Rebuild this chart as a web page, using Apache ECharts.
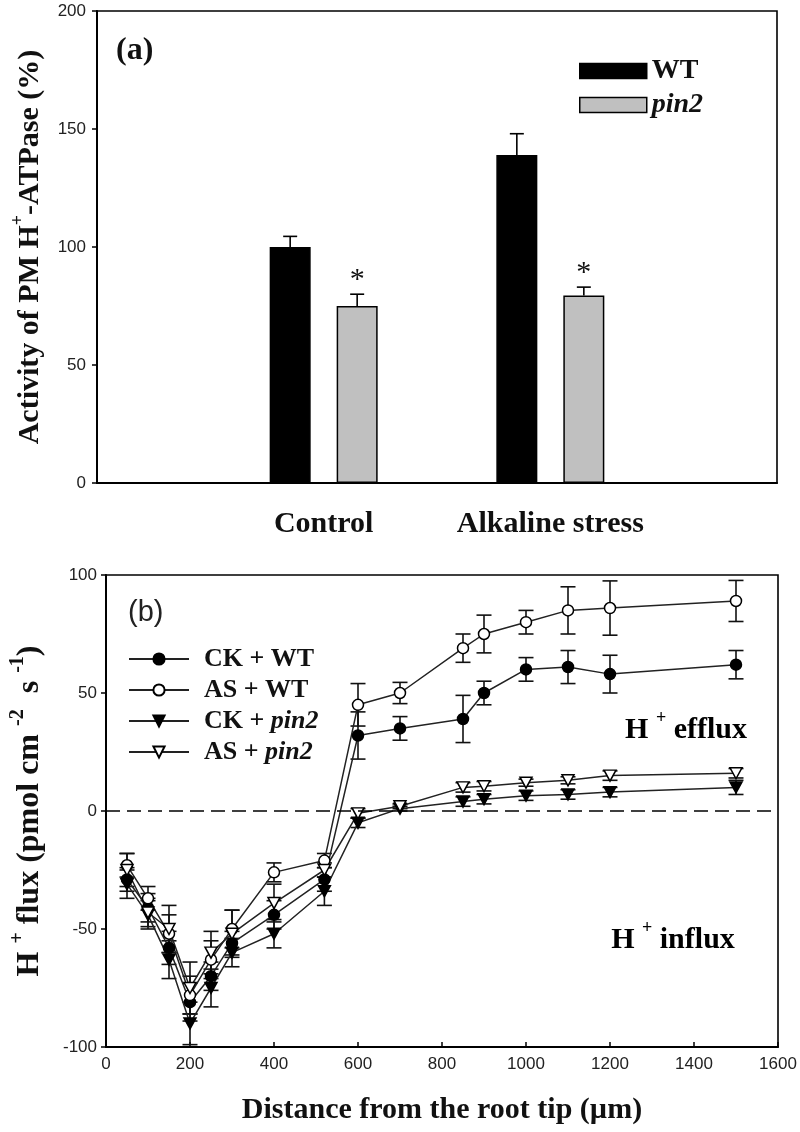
<!DOCTYPE html>
<html><head><meta charset="utf-8">
<script src="https://cdn.jsdelivr.net/npm/echarts@6/dist/echarts.min.js"></script>
<style>html,body{margin:0;padding:0;background:#fff}#c{width:800px;height:1132px}</style>
</head><body><div id="c"></div>
<script>
// ---------- Panel (a) data ----------
const barCategories = ['', 'Control', 'Alkaline stress', ''];
const wtActivity = [null, 100, 139, null];
const wtActivityErr = [null, 4.5, 9, null];
const pin2Activity = [null, 75, 79.5, null];
const pin2ActivityErr = [null, 5, 3.5, null];
const pin2Significant = [false, true, true, false];
const activityTicks = [0, 50, 100, 150, 200];

// ---------- Panel (b) data ----------
const distance = [50, 100, 150, 200, 250, 300, 400, 520, 600, 700, 850, 900, 1000, 1100, 1200, 1500];
const ckWT      = [-29, -41, -58, -81, -70, -56, -44, -29, 32, 35, 39, 50, 60, 61, 58, 62];
const ckWTErr   = [5, 6, 7, 8, 6, 5, 6, 5, 10, 5, 10, 5, 5, 7, 8, 6];
const asWT      = [-23, -37, -52, -78, -63, -50, -26, -21, 45, 50, 69, 75, 80, 85, 86, 89];
const asWTErr   = [5, 5, 8, 8, 8, 8, 4, 3, 9, 4.5, 6, 8, 5, 10, 11.5, 8.7];
const ckPin2    = [-31, -44, -63, -90, -75, -60, -52, -34, -5, 1, 4, 5, 6.5, 7, 8, 10];
const ckPin2Err = [6, 6, 8, 9, 8, 6, 6, 6, 2, 1, 2, 2, 2, 2, 2, 3];
const asPin2    = [-25, -43, -50, -75, -60, -52, -39, -25, -1, 2, 10, 10.5, 12, 13, 15, 16];
const asPin2Err = [7, 6, 10, 11, 9, 10, 8, 3, 2, 1, 2, 2, 1.5, 1.5, 2, 2];
const fluxTicks = [-100, -50, 0, 50, 100];
const distanceTicks = [0, 200, 400, 600, 800, 1000, 1200, 1400, 1600];

// ---------- styling ----------
const SERIF = '"Liberation Serif", "Times New Roman", serif';
const SANS = '"Liberation Sans", Arial, sans-serif';
const BAR_W = 41, BAR_GAP = 26;
const downTri = 'path://M0,0L10,0L5,9Z';

const chart = echarts.init(document.getElementById('c'), null, {renderer: 'canvas'});

function barErrSeries(name, vals, errs, sig, side) {
  const data = [];
  vals.forEach((v, i) => { if (v != null) data.push([i, v, errs[i], sig ? (sig[i] ? 1 : 0) : 0]); });
  const offset = side * (BAR_W + BAR_GAP) / 2;
  return {
    type: 'custom', name: name, xAxisIndex: 0, yAxisIndex: 0, z: 5, silent: true,
    encode: {x: 0, y: 1},
    data: data,
    renderItem: function (params, api) {
      const i = api.value(0), v = api.value(1), e = api.value(2);
      const b = api.coord([i, v]);
      const t = api.coord([i, v + e]);
      const x = b[0] + offset;
      const ch = [
        {type: 'line', shape: {x1: x, y1: b[1], x2: x, y2: t[1]}, style: {stroke: '#000', lineWidth: 1.6}},
        {type: 'line', shape: {x1: x - 7, y1: t[1], x2: x + 7, y2: t[1]}, style: {stroke: '#000', lineWidth: 1.6}}
      ];
      if (api.value(3)) {
        ch.push({type: 'text', x: x, y: t[1] - 14, style: {text: '*', fill: '#111', font: '30px ' + SERIF, align: 'center', verticalAlign: 'middle'}});
      }
      return {type: 'group', children: ch};
    }
  };
}

function fluxErrSeries(vals, errs) {
  const data = distance.map((d, i) => [d, vals[i], errs[i]]);
  return {
    type: 'custom', xAxisIndex: 1, yAxisIndex: 1, z: 2, silent: true,
    encode: {x: 0, y: 1},
    data: data,
    renderItem: function (params, api) {
      const x = api.value(0), y = api.value(1), e = api.value(2);
      const a = api.coord([x, y + e]);
      const b = api.coord([x, y - e]);
      const w = 7.5;
      const st = {stroke: '#111', lineWidth: 1.6};
      return {type: 'group', children: [
        {type: 'line', shape: {x1: a[0], y1: a[1], x2: b[0], y2: b[1]}, style: st},
        {type: 'line', shape: {x1: a[0] - w, y1: a[1], x2: a[0] + w, y2: a[1]}, style: st},
        {type: 'line', shape: {x1: b[0] - w, y1: b[1], x2: b[0] + w, y2: b[1]}, style: st}
      ]};
    }
  };
}

function lineSeries(name, vals, symbol, filled, extra) {
  const s = {
    type: 'line', name: name, xAxisIndex: 1, yAxisIndex: 1, z: 3,
    data: distance.map((d, i) => [d, vals[i]]),
    symbol: symbol, symbolSize: symbol === 'circle' ? 11 : [12, 11],
    showAllSymbol: true,
    lineStyle: {color: '#222', width: 1.5},
    itemStyle: {color: filled ? '#000' : '#fff', borderColor: '#000', borderWidth: 1.5},
    emphasis: {disabled: true},
    animation: false
  };
  return Object.assign(s, extra || {});
}

function supRich(size, supSize) {
  return {
    n: {fontFamily: SERIF, fontWeight: 'bold', fontSize: size, lineHeight: size + 6, verticalAlign: 'bottom', color: '#111'},
    s: {fontFamily: SERIF, fontWeight: 'bold', fontSize: supSize, lineHeight: supSize + 1, verticalAlign: 'top', color: '#111'}
  };
}

const option = {
  animation: false,
  backgroundColor: '#fff',
  grid: [
    {left: 97, top: 11, width: 680, height: 472, show: true, borderColor: '#000', borderWidth: 1.6, containLabel: false},
    {left: 102, top: 575, width: 676, height: 472, show: true, borderColor: '#000', borderWidth: 1.6, containLabel: false}
  ],
  xAxis: [
    {
      gridIndex: 0, type: 'category', data: barCategories, boundaryGap: false,
      axisLine: {lineStyle: {color: '#000', width: 2}},
      axisTick: {show: false},
      axisLabel: {interval: 0, fontFamily: SERIF, fontWeight: 'bold', fontSize: 30, color: '#111', margin: 26},
      splitLine: {show: false}
    },
    {
      gridIndex: 1, type: 'value', min: distanceTicks[0], max: distanceTicks[distanceTicks.length - 1],
      interval: distanceTicks[1] - distanceTicks[0],
      axisLine: {onZero: false, lineStyle: {color: '#000', width: 2}},
      axisTick: {inside: true, length: 5, lineStyle: {color: '#000', width: 1.5}},
      axisLabel: {fontFamily: SANS, fontSize: 17, color: '#222', margin: 9, formatter: v => String(v)},
      splitLine: {show: false},
      name: 'Distance from the root tip (\u00b5m)', nameLocation: 'middle', nameGap: 48,
      nameTextStyle: {fontFamily: SERIF, fontWeight: 'bold', fontSize: 30, color: '#111'}
    }
  ],
  yAxis: [
    {
      gridIndex: 0, type: 'value', min: activityTicks[0], max: activityTicks[activityTicks.length - 1],
      interval: activityTicks[1] - activityTicks[0],
      axisLine: {show: true, lineStyle: {color: '#000', width: 2}},
      axisTick: {show: true, inside: false, length: 5, lineStyle: {color: '#000', width: 1.5}},
      axisLabel: {fontFamily: SANS, fontSize: 17, color: '#222', margin: 11, formatter: v => String(v)},
      splitLine: {show: false},
      name: '{n|Activity of PM H}{s|+}{n|-ATPase (%)}', nameLocation: 'middle', nameGap: 52,
      nameTextStyle: {rich: supRich(30, 18)}
    },
    {
      gridIndex: 1, type: 'value', min: fluxTicks[0], max: fluxTicks[fluxTicks.length - 1],
      interval: fluxTicks[1] - fluxTicks[0],
      axisLine: {show: true, onZero: false, lineStyle: {color: '#000', width: 2}},
      axisTick: {show: true, inside: false, length: 5, lineStyle: {color: '#000', width: 1.5}},
      axisLabel: {fontFamily: SANS, fontSize: 17, color: '#222', margin: 9, formatter: v => String(v)},
      splitLine: {show: false},
      name: '{n|H }{s|+}{n| flux (pmol cm }{s|-2}{n|  s }{s|-1}{n|)}', nameLocation: 'middle', nameGap: 60,
      nameTextStyle: {rich: supRich(32, 20)}
    }
  ],
  legend: [
    {
      left: 579, top: 57, padding: 0, orient: 'vertical', itemWidth: 67, itemHeight: 15, itemGap: 6,
      itemStyle: {borderColor: '#000', borderWidth: 1.5},
      selectedMode: false,
      data: [
        {name: 'WT', icon: 'rect', textStyle: {fontFamily: SERIF, fontWeight: 'bold', fontSize: 28, color: '#111'}},
        {name: 'pin2', icon: 'rect', textStyle: {fontFamily: SERIF, fontWeight: 'bold', fontStyle: 'italic', fontSize: 28, color: '#111'}}
      ],
      textStyle: {fontFamily: SERIF, fontWeight: 'bold', fontSize: 28, color: '#111'}
    },
    {
      left: 128, top: 646, padding: 0, orient: 'vertical', itemWidth: 60, itemHeight: 14, itemGap: 5,
      selectedMode: false,
      data: ['CK + WT', 'AS + WT', 'CK + pin2', 'AS + pin2'],
      formatter: function (name) { return name.replace('pin2', '{i|pin2}'); },
      textStyle: {fontFamily: SERIF, fontWeight: 'bold', fontSize: 26, color: '#111', padding: [0, 0, 0, 10],
        rich: {i: {fontFamily: SERIF, fontWeight: 'bold', fontStyle: 'italic', fontSize: 26, color: '#111'}}}
    }
  ],
  graphic: [
    {type: 'text', left: 116, top: 35, style: {text: '(a)', font: 'bold 32px ' + SERIF, fill: '#111'}},
    {type: 'text', left: 128, top: 598, style: {text: '(b)', font: '29px ' + SANS, fill: '#222'}},
    {type: 'text', x: 686, y: 727, style: {text: '{n|H }{s|+}{n| efflux}', rich: supRich(30, 18), align: 'center', verticalAlign: 'middle'}},
    {type: 'text', x: 673, y: 937, style: {text: '{n|H }{s|+}{n| influx}', rich: supRich(30, 18), align: 'center', verticalAlign: 'middle'}}
  ],
  series: [
    {type: 'bar', name: 'WT', xAxisIndex: 0, yAxisIndex: 0, data: wtActivity, barWidth: BAR_W, barGap: (BAR_GAP / BAR_W * 100).toFixed(1) + '%',
      itemStyle: {color: '#000', borderColor: '#000', borderWidth: 1.5}, emphasis: {disabled: true}},
    {type: 'bar', name: 'pin2', xAxisIndex: 0, yAxisIndex: 0, data: pin2Activity, barWidth: BAR_W,
      itemStyle: {color: '#c0c0c0', borderColor: '#000', borderWidth: 1.5}, emphasis: {disabled: true}},
    barErrSeries('WT err', wtActivity, wtActivityErr, null, -1),
    barErrSeries('pin2 err', pin2Activity, pin2ActivityErr, pin2Significant, 1),
    fluxErrSeries(ckWT, ckWTErr),
    fluxErrSeries(asWT, asWTErr),
    fluxErrSeries(ckPin2, ckPin2Err),
    fluxErrSeries(asPin2, asPin2Err),
    lineSeries('CK + WT', ckWT, 'circle', true, {
      markLine: {silent: true, symbol: ['none', 'none'], label: {show: false},
        lineStyle: {color: '#000', type: [14, 7], width: 1.5}, data: [{yAxis: 0}]}
    }),
    lineSeries('AS + WT', asWT, 'circle', false),
    lineSeries('CK + pin2', ckPin2, downTri, true),
    lineSeries('AS + pin2', asPin2, downTri, false)
  ]
};
chart.setOption(option);
</script>
</body></html>
